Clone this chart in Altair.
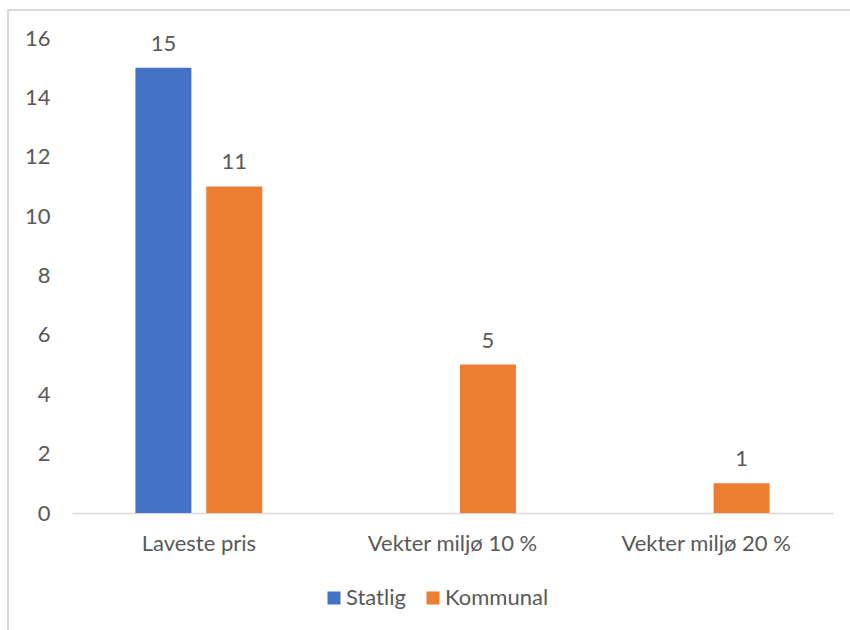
import altair as alt
import pandas as pd

categories = ["Laveste pris", "Vekter miljø 10 %", "Vekter miljø 20 %"]
series = ["Statlig", "Kommunal"]
statlig = [15, None, None]
kommunal = [11, 5, 1]
colors = ["#4472C4", "#ED7D31"]

rows = []
for cat, s_val, k_val in zip(categories, statlig, kommunal):
    if s_val is not None:
        rows.append({"kategori": cat, "serie": "Statlig", "verdi": s_val})
    if k_val is not None:
        rows.append({"kategori": cat, "serie": "Kommunal", "verdi": k_val})
df = pd.DataFrame(rows)

FONT = "Lato"
TEXT = "#595959"
FS = 22

x_enc = alt.X("kategori:N", sort=categories,
              scale=alt.Scale(domain=categories, paddingInner=0.5, paddingOuter=0.25),
              axis=alt.Axis(title=None, labelAngle=0, labelPadding=20, ticks=False,
                            domainColor="#d9d9d9", domainWidth=1.5,
                            labelFontSize=FS, labelColor=TEXT, labelFont=FONT))
xoff = alt.XOffset("serie:N", sort=series,
                   scale=alt.Scale(domain=series, paddingInner=0.21, paddingOuter=0))
y_enc = alt.Y("verdi:Q",
              scale=alt.Scale(domain=[0, 16], nice=False),
              axis=alt.Axis(title=None, values=list(range(0, 17, 2)), grid=False,
                            domain=False, ticks=False, labelPadding=22,
                            labelFontSize=FS, labelColor=TEXT, labelFont=FONT))

bars = alt.Chart(df).mark_bar().encode(
    x=x_enc,
    xOffset=xoff,
    y=y_enc,
    color=alt.Color("serie:N", sort=series,
                    scale=alt.Scale(domain=series, range=colors),
                    legend=alt.Legend(title=None, orient="none", direction="horizontal",
                                      legendX=251, legendY=549,
                                      symbolType="square", symbolSize=169,
                                      symbolStrokeWidth=0, labelFontSize=FS,
                                      labelColor=TEXT, labelFont=FONT,
                                      columnPadding=16, labelOffset=1)),
)

labels = alt.Chart(df).mark_text(baseline="bottom", dy=-12, fontSize=FS,
                                 color=TEXT, font=FONT).encode(
    x=alt.X("kategori:N", sort=categories),
    xOffset=xoff,
    y="verdi:Q",
    text="verdi:Q",
)

# light frame around the whole figure
frame = alt.Chart(pd.DataFrame({"a": [0]})).mark_rect(
    fill=None, stroke="#d9d9d9", strokeWidth=2
).encode(
    x=alt.value(-64), x2=alt.value(800),
    y=alt.value(-28), y2=alt.value(640),
)

chart = alt.layer(frame, bars, labels).properties(
    width=761, height=475,
    autosize=alt.AutoSizeParams(type="none"),
    padding={"left": 72, "top": 38, "right": 17, "bottom": 117},
    background="white",
).configure_view(stroke=None)

chart.save("out.html", embed_options={"renderer": "svg", "actions": False})
